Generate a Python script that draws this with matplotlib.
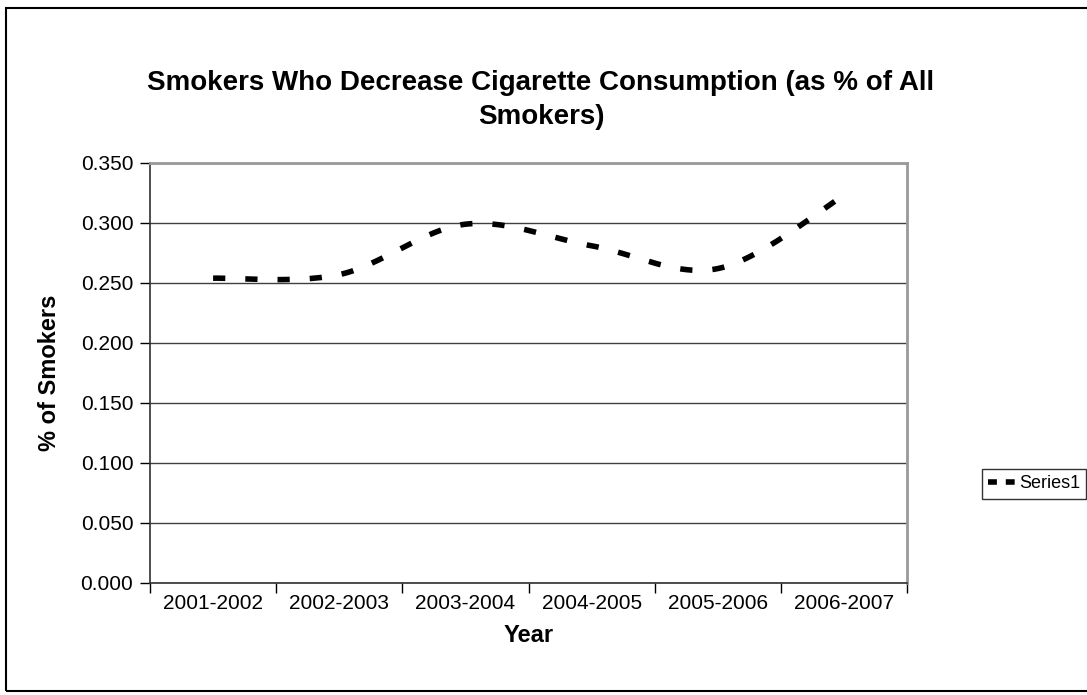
import numpy as np
import matplotlib
matplotlib.use("Agg")
import matplotlib.pyplot as plt
from matplotlib.patches import Rectangle
from matplotlib.lines import Line2D

plt.rcParams['font.family'] = ['Liberation Sans', 'DejaVu Sans']

# data
years = ["2001-2002", "2002-2003", "2003-2004", "2004-2005", "2005-2006", "2006-2007"]
share = [0.254, 0.257, 0.299, 0.281, 0.262, 0.323]
yticks = [0.0, 0.05, 0.10, 0.15, 0.20, 0.25, 0.30, 0.35]


# smoothed line like Excel (bezier through the points)
def smooth(xs, ys, n=30):
    xs = np.asarray(xs, float)
    ys = np.asarray(ys, float)
    px = np.concatenate([[xs[0]], xs, [xs[-1]]])
    py = np.concatenate([[ys[0]], ys, [ys[-1]]])
    out_x, out_y = [], []
    t = np.linspace(0, 1, n)
    for i in range(1, len(px) - 2):
        x0, x1, x2, x3 = px[i - 1:i + 3]
        y0, y1, y2, y3 = py[i - 1:i + 3]
        cx1 = x1 + (x2 - x0) / 6
        cy1 = y1 + (y2 - y0) / 6
        cx2 = x2 - (x3 - x1) / 6
        cy2 = y2 - (y3 - y1) / 6
        bx = (1 - t)**3 * x1 + 3 * (1 - t)**2 * t * cx1 + 3 * (1 - t) * t**2 * cx2 + t**3 * x2
        by = (1 - t)**3 * y1 + 3 * (1 - t)**2 * t * cy1 + 3 * (1 - t) * t**2 * cy2 + t**3 * y2
        out_x.extend(bx if i == 1 else bx[1:])
        out_y.extend(by if i == 1 else by[1:])
    return np.array(out_x), np.array(out_y)


fig = plt.figure(figsize=(10.87, 6.95), dpi=100)
ax = fig.add_axes([150 / 1087, 112 / 695, 757 / 1087, 420 / 695])

xpos = np.arange(len(years))
sx, sy = smooth(xpos, share)
ax.plot(sx, sy, color="black", lw=4, linestyle=(0, (2.2, 3.6)),
        dash_capstyle="butt", solid_capstyle="butt")

ax.set_xlim(-0.5, len(years) - 0.5)
ax.set_ylim(0, 0.35)
ax.set_yticks(yticks)
ax.set_yticklabels([f"{v:.3f}" for v in yticks])
ax.yaxis.grid(True, color="#404040", lw=1)
ax.set_axisbelow(True)

ax.set_xticks(xpos)
ax.set_xticklabels(years)
ax.set_xticks(np.arange(-0.5, len(years)), minor=True)
ax.tick_params(axis="x", which="major", length=0, pad=8, labelsize=15)
ax.tick_params(axis="x", which="minor", length=7, width=1, direction="out")
ax.tick_params(axis="y", length=7, width=1, direction="out", pad=5, labelsize=15)

for s in ["top", "right"]:
    ax.spines[s].set_color("#999999")
    ax.spines[s].set_linewidth(2)
for s in ["left", "bottom"]:
    ax.spines[s].set_color("#303030")
    ax.spines[s].set_linewidth(1.2)

ax.set_xlabel("Year", fontsize=17, fontweight="bold", labelpad=8)
ax.set_ylabel("% of Smokers", fontsize=17, fontweight="bold", labelpad=14)

fig.text(541 / 1087, 1 - 100 / 695,
         "Smokers Who Decrease Cigarette Consumption (as % of All\nSmokers)",
         ha="center", va="center", fontsize=20, fontweight="bold", linespacing=1.4)

# legend
handle = Line2D([], [], color="black", lw=4, linestyle=(0, (1.6, 1.6)), dash_capstyle="butt")
leg = fig.legend([handle], ["Series1"], loc="center left",
                 bbox_to_anchor=(982 / 1087, 1 - 484 / 695), fontsize=13,
                 frameon=True, fancybox=False, edgecolor="black",
                 handlelength=1.5, handletextpad=0.2, borderpad=0.35,
                 borderaxespad=0)
leg.get_frame().set_linewidth(1)

# outer chart frame
fig.patches.append(Rectangle((6 / 1087, 4 / 695), 1.1, 683 / 695, transform=fig.transFigure,
                             fill=False, edgecolor="black", lw=1.5))

fig.savefig("out.png", dpi=100)
